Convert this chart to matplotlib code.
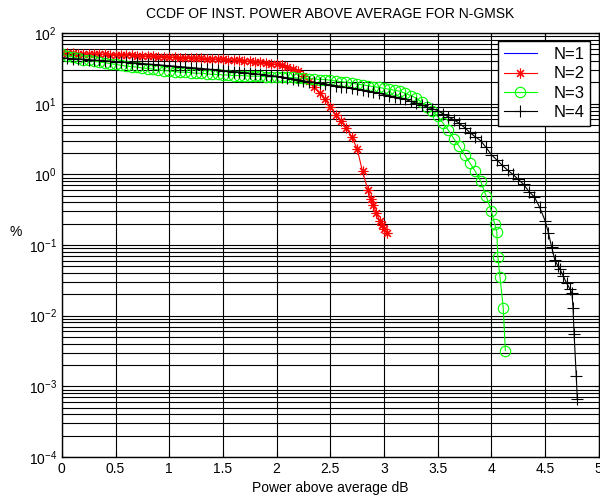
#Import MatPlotLib
import matplotlib
matplotlib.use('Agg')
from matplotlib import pyplot as plt
from matplotlib.ticker import LogLocator, MultipleLocator, FormatStrFormatter, NullFormatter

plt.rcParams['font.family'] = ['Liberation Sans', 'DejaVu Sans']

# N=1 is constant envelope, so nothing shows above average
x1 = []
y1 = []

# N=2
x2 = [0.00, 0.05, 0.10, 0.15, 0.20, 0.25, 0.30, 0.35, 0.40, 0.45, 0.50, 0.55, 0.60, 0.65,
      0.70, 0.75, 0.80, 0.85, 0.90, 0.95, 1.00, 1.05, 1.10, 1.15, 1.20, 1.25, 1.30, 1.35,
      1.40, 1.45, 1.50, 1.55, 1.60, 1.65, 1.70, 1.75, 1.80, 1.85, 1.90, 1.95, 2.00, 2.05,
      2.10, 2.15, 2.20, 2.25, 2.30, 2.35, 2.40, 2.45, 2.50, 2.55, 2.60, 2.65, 2.70, 2.75,
      2.80, 2.85, 2.88, 2.90, 2.93, 2.96, 2.98, 3.00, 3.03]
y2 = [52, 52, 51.5, 51, 51, 50.5, 50.5, 50, 50, 49.5, 49.5, 49, 48.5, 48.5,
      48, 47.5, 47.5, 47, 46.5, 46.5, 46, 45.5, 45, 45, 44.5, 44, 44, 43.5,
      43, 43, 42.5, 42, 41.5, 41, 40.5, 40, 39, 38.5, 38, 37, 36, 35,
      33, 31, 29, 25, 21, 17, 14, 11.5, 9, 7, 5.7, 4.5, 3.4, 2.3,
      1.1, 0.6, 0.45, 0.37, 0.28, 0.22, 0.19, 0.17, 0.15]

# N=3
x3 = [0.00, 0.05, 0.10, 0.15, 0.20, 0.25, 0.30, 0.35, 0.40, 0.45, 0.50, 0.55, 0.60, 0.65,
      0.70, 0.75, 0.80, 0.85, 0.90, 0.95, 1.00, 1.05, 1.10, 1.15, 1.20, 1.25, 1.30, 1.35,
      1.40, 1.45, 1.50, 1.55, 1.60, 1.65, 1.70, 1.75, 1.80, 1.85, 1.90, 1.95, 2.00, 2.05,
      2.10, 2.15, 2.20, 2.25, 2.30, 2.35, 2.40, 2.45, 2.50, 2.55, 2.60, 2.65, 2.70, 2.75,
      2.80, 2.85, 2.90, 2.95, 3.00, 3.05, 3.10, 3.15, 3.20, 3.25, 3.30, 3.35, 3.40, 3.45,
      3.50, 3.55, 3.60, 3.65, 3.70, 3.75, 3.80, 3.85, 3.90, 3.95, 4.00, 4.03, 4.05, 4.06,
      4.08, 4.11, 4.13]
y3 = [50, 48, 46, 44, 42, 41, 40, 39, 38, 37, 36, 35, 34, 33.5,
      33, 32, 31.5, 31, 30, 29.5, 29, 28.5, 28, 28, 27.5, 27, 27, 26.5,
      26, 26, 25.5, 25.5, 25, 25, 25, 24.5, 24.5, 24.5, 24, 24, 24, 23.5,
      23.5, 23.5, 23, 23, 22.5, 22.5, 22, 22, 21.5, 21, 20.5, 20, 19.5, 19,
      18.5, 18, 17.5, 17, 16.5, 16, 15.5, 15, 14, 13, 12, 10.5, 9, 7.8,
      6.6, 5.3, 4.2, 3.2, 2.5, 1.9, 1.45, 1.1, 0.8, 0.5, 0.3, 0.2, 0.155, 0.068,
      0.035, 0.013, 0.0032]

# N=4
x4 = [0.00, 0.05, 0.10, 0.15, 0.20, 0.25, 0.30, 0.35, 0.40, 0.45, 0.50, 0.55, 0.60, 0.65,
      0.70, 0.75, 0.80, 0.85, 0.90, 0.95, 1.00, 1.05, 1.10, 1.15, 1.20, 1.25, 1.30, 1.35,
      1.40, 1.45, 1.50, 1.55, 1.60, 1.65, 1.70, 1.75, 1.80, 1.85, 1.90, 1.95, 2.00, 2.05,
      2.10, 2.15, 2.20, 2.25, 2.30, 2.35, 2.40, 2.45, 2.50, 2.55, 2.60, 2.65, 2.70, 2.75,
      2.80, 2.85, 2.90, 2.95, 3.00, 3.05, 3.10, 3.15, 3.20, 3.25, 3.30, 3.35, 3.40, 3.45,
      3.50, 3.55, 3.60, 3.65, 3.70, 3.75, 3.80, 3.85, 3.90, 3.95, 4.00, 4.05, 4.10, 4.15,
      4.20, 4.25, 4.30, 4.35, 4.40, 4.45, 4.50, 4.53, 4.56, 4.59, 4.62, 4.64, 4.67, 4.70,
      4.73, 4.75, 4.76, 4.77, 4.79, 4.80]
y4 = [45, 44, 43.5, 43, 42.5, 42, 41.5, 41, 40.5, 40, 39.5, 39, 38.5, 38,
      37.5, 37, 36.5, 36, 35.5, 35, 34.5, 34, 33.5, 33, 32.5, 32, 31.5, 31,
      30.5, 30, 29.5, 29, 28.5, 28, 27.5, 27, 26.5, 26, 25.5, 25, 24.5, 24,
      23, 22.5, 22, 21, 20.5, 20, 19.5, 19, 18.5, 18, 17.5, 17, 16.5, 16,
      15.5, 15, 14.5, 14, 13.5, 13, 12.5, 12, 11.5, 10.8, 10.2, 9.6, 9, 8.5,
      8.0, 7.2, 6.5, 5.9, 5.3, 4.6, 3.9, 3.4, 3.0, 2.4, 1.9, 1.6, 1.35, 1.15,
      1.0, 0.85, 0.72, 0.57, 0.48, 0.34, 0.22, 0.15, 0.095, 0.062, 0.05, 0.045, 0.036, 0.029,
      0.024, 0.021, 0.013, 0.0055, 0.0014, 0.00065]

fig = plt.figure(figsize=(6.0, 5.01), dpi=100)
ax = fig.add_axes([0.103, 0.088, 0.895, 0.846])

ax.semilogy(x1, y1, color='#0000ff', linewidth=0.8, label='N=1')
ax.semilogy(x2, y2, color='#ff0000', linewidth=0.8, marker=(8, 2, 0), markersize=7,
            markeredgewidth=0.8, label='N=2')
ax.semilogy(x3, y3, color='#00ff00', linewidth=0.8, marker='o', markersize=7.5,
            markerfacecolor='none', markeredgewidth=0.8, label='N=3')
ax.semilogy(x4, y4, color='black', linewidth=0.8, marker='+', markersize=8,
            markeredgewidth=0.8, label='N=4')

ax.set_xlim(0, 5)
ax.set_ylim(1e-4, 1e2)
ax.xaxis.set_major_locator(MultipleLocator(0.5))
ax.xaxis.set_major_formatter(FormatStrFormatter('%g'))
ax.yaxis.set_major_locator(LogLocator(base=10, numticks=10))
ax.yaxis.set_minor_locator(LogLocator(base=10, subs=range(2, 10), numticks=20))
ax.yaxis.set_minor_formatter(NullFormatter())

ax.grid(True, which='major', color='black', linewidth=0.8)
ax.grid(True, which='minor', axis='y', color='black', linewidth=0.8)
ax.tick_params(which='both', direction='in', top=True, right=True, labelsize=10)

for s in ax.spines.values():
    s.set_linewidth(1.0)

ax.set_title('CCDF OF INST. POWER ABOVE AVERAGE FOR N-GMSK', fontsize=10, pad=11)
ax.set_xlabel('Power above average dB', fontsize=10, labelpad=4)
ax.set_ylabel('%', fontsize=10, rotation=0, va='center', ha='center')
ax.yaxis.set_label_coords(-0.085, 0.53)

leg = ax.legend(loc='upper right', fontsize=12, fancybox=False, framealpha=1,
                edgecolor='black', borderaxespad=0.5, handlelength=2.0,
                handletextpad=1.0, labelspacing=0.25, borderpad=0.35)
leg.get_frame().set_linewidth(1.0)

fig.savefig('out.png', dpi=100)
